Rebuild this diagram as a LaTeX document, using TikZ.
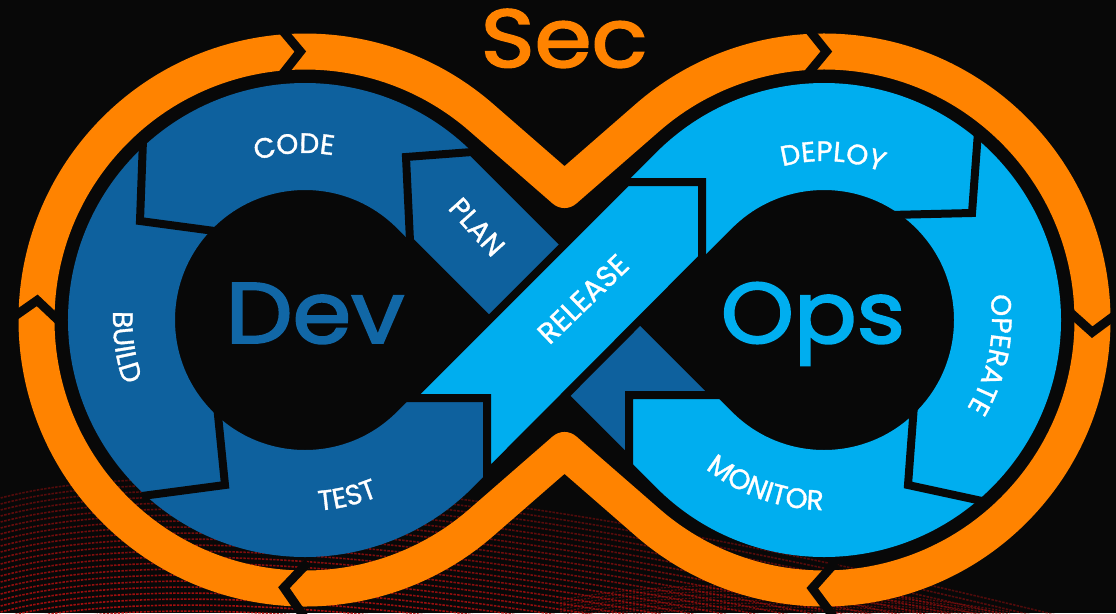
\documentclass[tikz,border=0pt]{standalone}
\usepackage{fontspec}
\setmainfont{Poppins}
\newfontfamily\labfam{Poppins}[FakeBold=1.2]
\newfontfamily\bigfam{Poppins}[FakeBold=2.2]
\usetikzlibrary{calc,decorations.text}
\definecolor{bgk}{RGB}{8,8,8}
\definecolor{orng}{RGB}{255,131,0}
\definecolor{dblue}{RGB}{14,97,158}
\definecolor{lblue}{RGB}{0,174,239}
\definecolor{devc}{RGB}{17,103,166}
\definecolor{streak}{RGB}{190,16,16}
\newcommand\labf{\labfam\fontsize{28}{28}\selectfont}
\begin{document}
\begin{tikzpicture}[x=1pt,y=-1pt,
  band/.style={line width=107pt, line cap=butt},
  sepline/.style={draw=bgk, line width=8pt, line join=miter},
  notchline/.style={draw=bgk, line width=9pt, line join=miter},
  lab/.style={text=white, font=\labf, inner sep=0pt},
  arclab/.style={decorate, decoration={text along path, text={|\labf|#1}, text align=center, text color=white}},
  big/.style={inner sep=0pt, anchor=base}]
\fill[bgk] (0,0) rectangle (1116,613);
\useasboundingbox (0,0) rectangle (1116,613);
% red binary streaks
\foreach \i in {0,...,24} {
  \pgfmathsetmacro\yy{466+6*\i}
  \pgfmathsetmacro\op{0.4+0.022*\i}
  \draw[streak, line width=1.6pt, dash pattern=on 2.5pt off 1.2pt, opacity=\op]
    (-10,\yy+35) .. controls (140,\yy-10) and (480,\yy+8) .. (1060,\yy+150);
}
\foreach \i in {0,...,8} {
  \draw[streak, line width=1.2pt, dash pattern=on 2pt off 1.5pt, opacity=0.45]
    (560,{600+3*\i}) .. controls (700,{575+3*\i}) and (850,{585+3*\i}) .. (1010,{612+2*\i});
}
% blue figure-eight
\coordinate (M) at (564.5,320);
\coordinate (tlL) at (434.75,190.25);
\coordinate (tlR) at (694.25,190.25);
\draw[band, dblue] (M) -- (tlL) arc[start angle=-45, end angle=-315, radius=183.5] -- (M);
\draw[band, lblue] (M) -- (tlR) arc[start angle=-135, end angle=135, radius=183.5] -- (M);
% PLAN piece
\filldraw[fill=dblue, sepline] (715,395) -- (629,395) -- (629,460) -- (410,241) -- (406,157) -- (472,152) -- cycle;
% RELEASE piece
\filldraw[fill=lblue, sepline] (411,398) -- (487,398) -- (487,474) -- (702,258) -- (702,182) -- (627,182) -- cycle;
% separators
\draw[sepline] (143,140) -- (140,221) -- (222,232);
\draw[sepline] (217,405) -- (225,485) -- (142,496);
\draw[sepline] (978,132) -- (972,213) -- (890,215);
\draw[sepline] (914,405) -- (908,485) -- (982,501);
% orange loop
\draw[orng, line width=36pt, line join=round] (564.5,190) -- (481.5,117.7)
  arc[start angle=-48.9, end angle=-311.1, radius=268.5] -- (564.5,450) -- (647.5,522.3)
  arc[start angle=131.1, end angle=-131.1, radius=268.5] -- cycle;
% notches
\foreach \cx/\ang in {305/-91, 305/184.2, 305/94.5, 824/-89.5, 824/2.6, 824/92.5} {
  \begin{scope}[shift={(\cx,320)}, rotate=-\ang]
    \draw[notchline] (295.5,-22) -- (268.5,0) -- (241.5,-22);
  \end{scope}
}
% texts
\node[big, text=orng, font=\bigfam\fontsize{82}{82}\selectfont, xscale=1.12] (sec) at (564,67) {Sec};
\node[big, text=devc, font=\bigfam\fontsize{86}{86}\selectfont, xscale=1.1] (dev) at (315,343) {Dev};
\node[big, text=lblue, font=\bigfam\fontsize{86}{86}\selectfont, xscale=1.08] (ops) at (813,343) {Ops};
\path[arclab=CODE] (305,320) ++(-153.6:167) arc[start angle=-153.6, end angle=-33.6, radius=167];
\path[arclab=BUILD] (305,320) ++(231.5:192) arc[start angle=231.5, end angle=111.5, radius=192];
\path[arclab=TEST] (305,320) ++(136.6:191) arc[start angle=136.6, end angle=16.6, radius=191];
\path[arclab=DEPLOY] (824,320) ++(-146.9:159) arc[start angle=-146.9, end angle=-26.9, radius=159];
\path[arclab=OPERATE] (824,320) ++(-48.4:168) arc[start angle=-48.4, end angle=71.6, radius=168];
\path[arclab=MONITOR] (824,320) ++(169.4:190) arc[start angle=169.4, end angle=49.4, radius=190];
\node[lab, rotate=-48] (plan) at (477,227) {PLAN};
\node[lab, rotate=44, scale=1.05] (release) at (583,299) {RELEASE};
\end{tikzpicture}
\end{document}
